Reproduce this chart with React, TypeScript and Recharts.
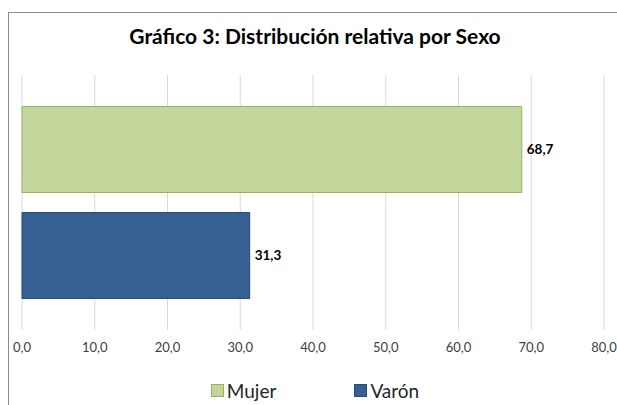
import React from 'react';
import { BarChart, Bar, XAxis, YAxis, CartesianGrid, Cell, LabelList, Legend } from 'recharts';

const categories = ['Mujer', 'Varón'];
const values = [68.7, 31.3];
const fills = ['#c3d69b', '#376092'];
const strokes = ['#98b35e', '#2a4b72'];
const xTicks = [0, 10, 20, 30, 40, 50, 60, 70, 80];

const data = categories.map((name, i) => ({ name, value: values[i] }));
const fmt = (v: number) => Number(v).toFixed(1).replace('.', ',');
const FONT = 'Lato, "Open Sans", sans-serif';

const renderLegend = () => (
  <div style={{ display: 'flex', justifyContent: 'center', gap: 78, fontFamily: FONT, fontSize: 19, color: '#262626' }}>
    {categories.map((c, i) => (
      <div key={c} style={{ display: 'flex', alignItems: 'center' }}>
        <span style={{ width: 11, height: 11, background: fills[i], border: `1px solid ${strokes[i]}`, marginRight: 3 }} />
        <span>{c}</span>
      </div>
    ))}
  </div>
);

export default function App() {
  return (
    <div style={{ position: 'absolute', left: 0, top: 0, width: 617, height: 405, background: '#fff', overflow: 'hidden' }}>
      {/* outer chart frame, only left and top edges visible */}
      <div style={{ position: 'absolute', left: 8, top: 12, width: 640, height: 420, borderLeft: '1px solid #8c8c8c', borderTop: '1px solid #8c8c8c' }} />
      <div style={{ position: 'absolute', left: 0, top: 23, width: 630, textAlign: 'center', fontFamily: FONT, fontWeight: 'bold', fontSize: 21, color: '#000' }}>
        Gráfico 3: Distribución relativa por Sexo
      </div>
      <div style={{ position: 'absolute', left: 0, top: 0 }}>
        <BarChart width={617} height={405} data={data} layout="vertical" margin={{ top: 75, right: 13, bottom: 55, left: 22 }}>
          <CartesianGrid horizontal={false} stroke="#d9d9d9" />
          <XAxis
            type="number"
            domain={[0, 80]}
            ticks={xTicks}
            axisLine={false}
            tickLine={false}
            tickSize={0}
            tickMargin={13}
            height={20}
            tickFormatter={fmt}
            tick={{ fontFamily: FONT, fontSize: 13, fill: '#404040' }}
            interval={0}
          />
          <YAxis type="category" dataKey="name" hide padding={{ top: 21.5, bottom: 21.5 }} />
          <Legend layout="horizontal" verticalAlign="middle" align="center" content={renderLegend}
            wrapperStyle={{ left: 0, top: 379, width: 630, height: 26 }} />
          <Bar dataKey="value" barSize={86} isAnimationActive={false}>
            {data.map((d, i) => (
              <Cell key={d.name} fill={fills[i]} stroke={strokes[i]} strokeWidth={1} />
            ))}
            <LabelList dataKey="value" position="right" offset={5} formatter={fmt}
              style={{ fontFamily: FONT, fontSize: 13.5, fontWeight: 'bold', fill: '#000' }} />
          </Bar>
        </BarChart>
      </div>
    </div>
  );
}
